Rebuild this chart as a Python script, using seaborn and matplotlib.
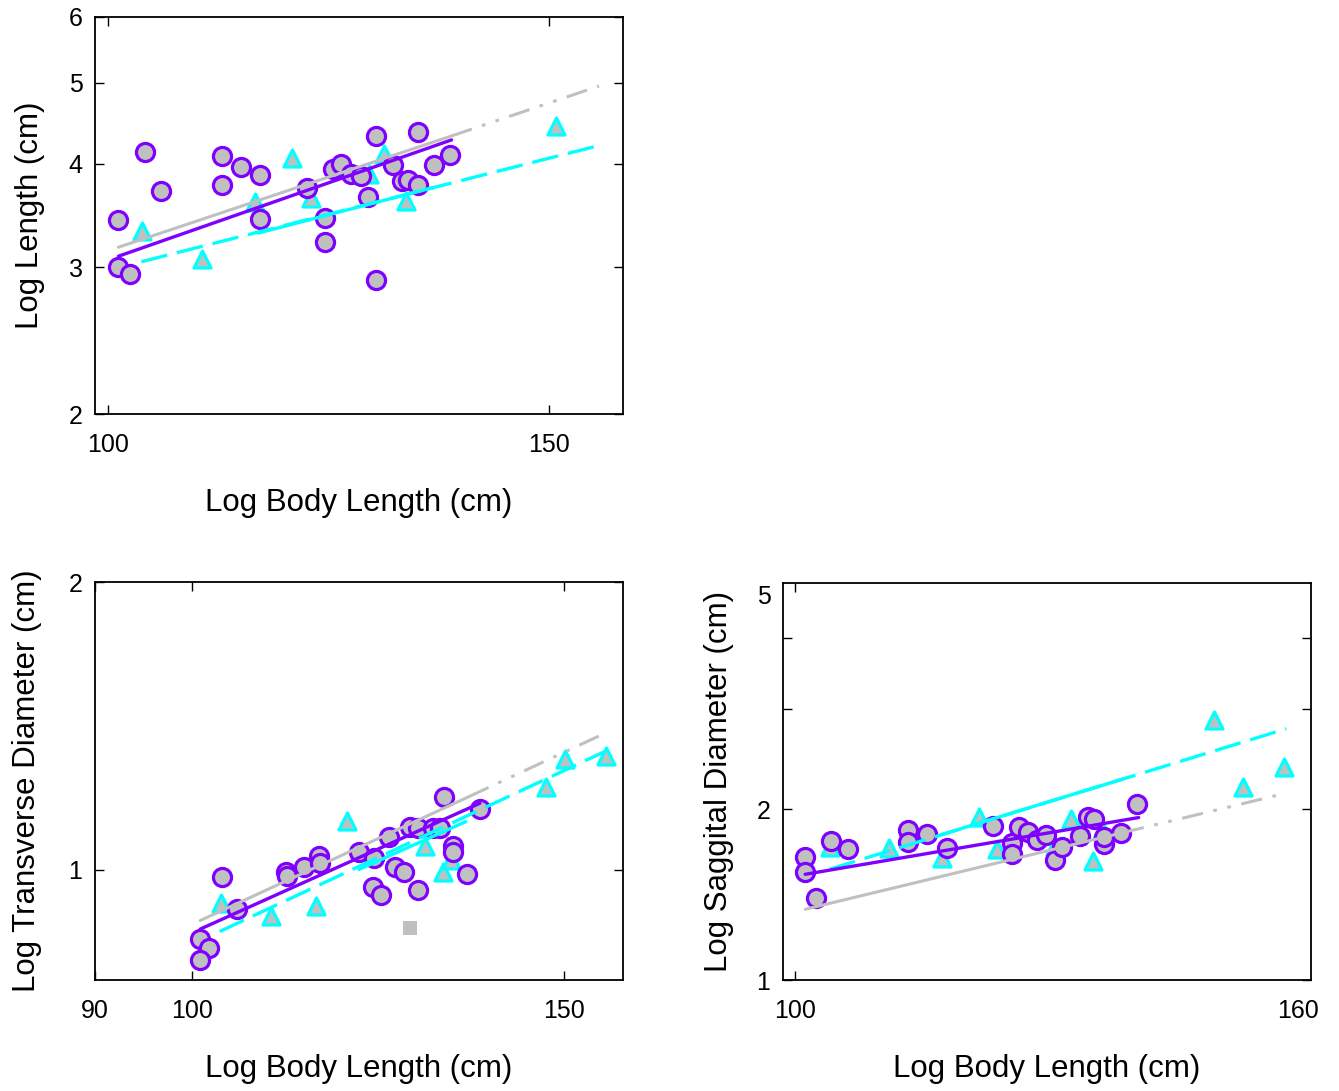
import numpy as np
import pandas as pd
import matplotlib
matplotlib.use("Agg")
import matplotlib.pyplot as plt
import matplotlib.ticker as mticker
import matplotlib.transforms as mtransforms
import seaborn as sns

# ---------------- data ----------------
# Panel 1: Log Length
p1_circ_x = [100.95, 100.95, 102.07, 103.43, 105.01, 111.0, 111.0, 113.0, 115.0, 115.0,
             120.0, 122.0, 122.0, 122.96, 123.9, 125.0, 126.1, 126.95, 127.9, 127.9,
             129.9, 131.0, 131.7, 133.0, 132.9, 134.9, 136.9]
p1_circ_y = [3.42, 3.00, 2.95, 4.13, 3.71, 4.08, 3.77, 3.96, 3.87, 3.43,
             3.74, 3.44, 3.22, 3.94, 4.00, 3.89, 3.86, 3.65, 4.32, 2.90,
             3.98, 3.81, 3.82, 3.77, 4.36, 3.98, 4.09]
p1_tri_x = [103.2, 109.0, 114.5, 118.4, 120.5, 127.1, 128.8, 131.5, 150.9]
p1_tri_y = [3.32, 3.07, 3.60, 4.06, 3.64, 3.89, 4.11, 3.61, 4.44]
p1_gray_x, p1_gray_y = [100.95, 137.1], [3.173, 4.317]
p1_grayext_x, p1_grayext_y = [137.1, 157.0], [4.317, 4.956]
p1_purple_x, p1_purple_y = [100.95, 137.1], [3.095, 4.270]
p1_cyan_x, p1_cyan_y = [103.1, 157.0], [3.048, 4.204]
p1_cyansolid_x, p1_cyansolid_y = [114.8, 134.9], [3.30, 3.744]

# Panel 2: Log Transverse Diameter
p2_circ_x = [100.93, 101.9, 100.93, 103.4, 105.1, 110.8, 111.0, 113.0, 114.9, 115.0,
             120.0, 122.0, 124.0, 124.8, 126.0, 121.9, 122.9, 126.9, 127.9, 128.0,
             130.1, 131.1, 131.6, 133.0, 133.0, 135.0, 136.9]
p2_circ_y = [0.846, 0.829, 0.804, 0.984, 0.910, 0.996, 0.986, 1.007, 1.034, 1.016,
             1.043, 1.029, 1.081, 1.008, 0.996, 0.959, 0.942, 1.110, 1.106, 0.953,
             1.106, 1.107, 1.191, 1.060, 1.045, 0.990, 1.159]
p2_tri_x = [103.2, 109.0, 114.5, 118.4, 129.0, 131.5, 132.6, 147.1, 150.2, 157.0]
p2_tri_y = [0.923, 0.894, 0.916, 1.126, 1.060, 0.996, 1.023, 1.220, 1.306, 1.314]
p2_sq_x, p2_sq_y = [126.9], [0.869]
p2_gray_x, p2_gray_y = [100.93, 135.3], [0.885, 1.193]
p2_grayext_x, p2_grayext_y = [135.3, 156.6], [1.193, 1.387]
p2_purple_x, p2_purple_y = [100.93, 136.9], [0.867, 1.174]
p2_cyan_x, p2_cyan_y = [103.1, 156.9], [0.862, 1.33]
p2_cyansolid_x, p2_cyansolid_y = [120.0, 134.8], [1.001, 1.123]

# Panel 3: Log Saggital Diameter
p3_circ_x = [100.97, 100.97, 102.0, 103.4, 105.1, 111.2, 111.2, 113.2, 115.3, 120.3,
             122.5, 122.5, 123.3, 124.4, 125.4, 126.4, 127.5, 128.4, 130.6, 131.5,
             132.3, 133.5, 133.5, 135.6, 137.7]
p3_circ_y = [1.645, 1.552, 1.397, 1.758, 1.699, 1.838, 1.753, 1.806, 1.711, 1.870,
             1.741, 1.667, 1.863, 1.825, 1.765, 1.801, 1.627, 1.718, 1.796, 1.940,
             1.921, 1.734, 1.789, 1.813, 2.040]
p3_tri_x = [103.3, 109.2, 114.7, 118.8, 120.8, 127.5, 129.5, 132.1, 133.2, 147.9, 152.0, 158.0]
p3_tri_y = [1.718, 1.711, 1.643, 1.940, 1.701, 1.725, 1.919, 1.623, 1.838, 2.871, 2.183, 2.376]
p3_gray_x, p3_gray_y = [100.97, 135.9], [1.332, 1.818]
p3_grayext_x, p3_grayext_y = [135.9, 158.3], [1.818, 2.133]
p3_purple_x, p3_purple_y = [100.97, 137.9], [1.535, 1.932]
p3_cyan_x, p3_cyan_y = [103.3, 158.3], [1.567, 2.769]
p3_cyansolid_x, p3_cyansolid_y = [114.6, 135.9], [1.801, 2.259]

xlabel = "Log Body Length (cm)"
ylabels = ["Log Length (cm)", "Log Transverse Diameter (cm)", "Log Saggital Diameter (cm)"]

# ---------------- style ----------------
sns.set_style("white")
plt.rcParams["font.family"] = ["Liberation Sans", "DejaVu Sans"]
plt.rcParams["axes.linewidth"] = 1.3
plt.rcParams["text.color"] = "black"
plt.rcParams["axes.labelcolor"] = "black"
plt.rcParams["xtick.color"] = "black"
plt.rcParams["ytick.color"] = "black"
plt.rcParams["axes.edgecolor"] = "black"

PURPLE = "#7f00ff"
CYAN = "#00ffff"
GRAY = "#c0c0c0"

W, H = 1339, 1091
fig = plt.figure(figsize=(W / 100, H / 100), dpi=100)


def px_axes(l, t, r, b):
    return fig.add_axes([l / W, 1 - b / H, (r - l) / W, (b - t) / H])


def draw_panel(ax, cx, cy, tx, ty, gx, gy, gex, gey, px_, py_, cyx, cyy, csx, csy,
               sqx=None, sqy=None):
    ax.set_xscale("log")
    ax.set_yscale("log")
    sns.scatterplot(x=tx, y=ty, ax=ax, marker="^", s=150, color=GRAY,
                    edgecolor=CYAN, linewidth=2.3, zorder=3)
    if sqx is not None:
        sns.scatterplot(x=sqx, y=sqy, ax=ax, marker="s", s=105, color=GRAY,
                        edgecolor=GRAY, linewidth=0, zorder=3)
    sns.scatterplot(x=cx, y=cy, ax=ax, marker="o", s=170, color=GRAY,
                    edgecolor=PURPLE, linewidth=2.3, zorder=4)
    sns.lineplot(x=gx, y=gy, ax=ax, color=GRAY, lw=2.2, zorder=5)
    sns.lineplot(x=gex, y=gey, ax=ax, color=GRAY, lw=2.2,
                 linestyle=(0, (7, 3.5, 1.2, 3.5, 1.2, 3.5)), zorder=5)
    sns.lineplot(x=cyx, y=cyy, ax=ax, color=CYAN, lw=2.4,
                 linestyle=(0, (8, 3)), zorder=6)
    sns.lineplot(x=csx, y=csy, ax=ax, color=CYAN, lw=2.4, zorder=6)
    sns.lineplot(x=px_, y=py_, ax=ax, color=PURPLE, lw=2.4, zorder=7)
    for s in ax.spines.values():
        s.set_visible(True)
        s.set_color("black")
        s.set_linewidth(1.3)
    ax.xaxis.set_minor_locator(mticker.NullLocator())
    ax.yaxis.set_minor_locator(mticker.NullLocator())
    ax.tick_params(axis="both", which="major", direction="in", length=6.5, width=1.0,
                   top=True, right=True, bottom=True, left=True,
                   labelsize=18, color="black", labelcolor="black")
    ax.tick_params(axis="x", pad=14)
    ax.tick_params(axis="y", pad=9)
    ax.set_xlabel(xlabel, fontsize=22.5, labelpad=22)


# Panel 1
ax1 = px_axes(95, 17, 623, 414)
draw_panel(ax1, p1_circ_x, p1_circ_y, p1_tri_x, p1_tri_y, p1_gray_x, p1_gray_y,
           p1_grayext_x, p1_grayext_y, p1_purple_x, p1_purple_y, p1_cyan_x, p1_cyan_y,
           p1_cyansolid_x, p1_cyansolid_y)
ax1.set_xlim(98.8, 160.5)
ax1.set_ylim(2, 6)
ax1.set_xticks([100, 150])
ax1.set_xticklabels(["100", "150"])
ax1.set_yticks([2, 3, 4, 5, 6])
ax1.set_yticklabels(["2", "3", "4", "5", "6"])
ax1.set_ylabel(ylabels[0], fontsize=22.5, labelpad=17)

# Panel 2
ax2 = px_axes(95, 582, 623, 980)
draw_panel(ax2, p2_circ_x, p2_circ_y, p2_tri_x, p2_tri_y, p2_gray_x, p2_gray_y,
           p2_grayext_x, p2_grayext_y, p2_purple_x, p2_purple_y, p2_cyan_x, p2_cyan_y,
           p2_cyansolid_x, p2_cyansolid_y, p2_sq_x, p2_sq_y)
ax2.set_xlim(90, 160)
ax2.set_ylim(0.767, 2)
ax2.set_xticks([90, 100, 150])
ax2.set_xticklabels(["90", "100", "150"])
ax2.set_yticks([1, 2])
ax2.set_yticklabels(["1", "2"])
ax2.set_ylabel(ylabels[1], fontsize=22.5, labelpad=19)

# Panel 3
ax3 = px_axes(783, 583, 1311, 980)
draw_panel(ax3, p3_circ_x, p3_circ_y, p3_tri_x, p3_tri_y, p3_gray_x, p3_gray_y,
           p3_grayext_x, p3_grayext_y, p3_purple_x, p3_purple_y, p3_cyan_x, p3_cyan_y,
           p3_cyansolid_x, p3_cyansolid_y)
ax3.set_xlim(98.9, 162)
ax3.set_ylim(1, 5)
ax3.set_xticks([100, 160])
ax3.set_xticklabels(["100", "160"])
ax3.set_yticks([1, 2, 3, 4, 5])
ax3.set_yticklabels(["1", "2", "", "", "5"])
ax3.set_ylabel(ylabels[2], fontsize=22.5, labelpad=16)
xt = ax3.xaxis.get_major_ticks()
xt[1].tick1line.set_visible(False)
xt[1].tick2line.set_visible(False)
yt = ax3.yaxis.get_major_ticks()
yt[4].tick1line.set_visible(False)
yt[4].tick2line.set_visible(False)
off = mtransforms.ScaledTranslation(0, -8 / 72, fig.dpi_scale_trans)
yt[4].label1.set_transform(yt[4].label1.get_transform() + off)

for ax in (ax1, ax2, ax3):
    leg = ax.get_legend()
    if leg is not None:
        leg.remove()

fig.savefig("out.png", dpi=100)
